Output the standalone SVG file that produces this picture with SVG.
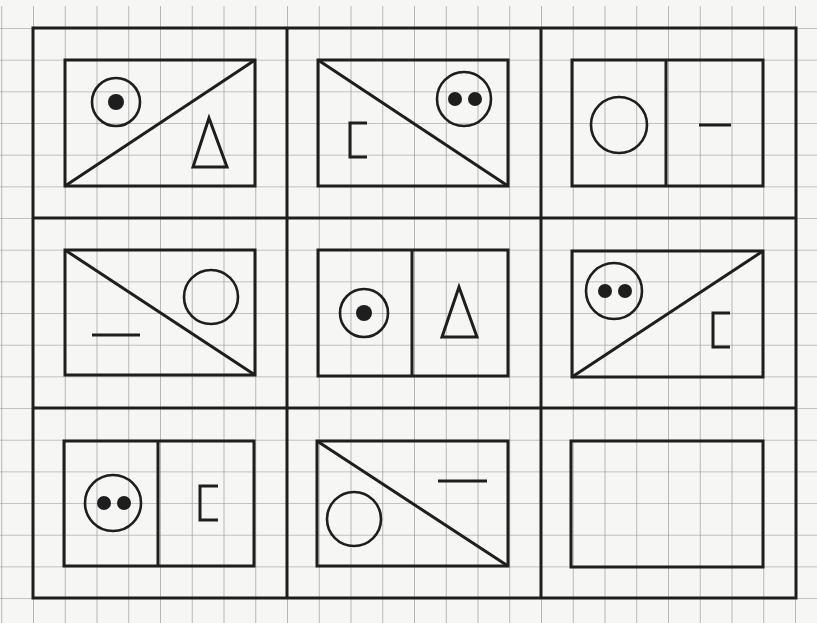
<svg xmlns="http://www.w3.org/2000/svg" width="817" height="623" viewBox="0 0 817 623">
<style>
.k{fill:none;stroke:#1e1e1e;stroke-width:3;stroke-linejoin:miter}
.c{fill:none;stroke:#1e1e1e;stroke-width:2.6}
.d{fill:#1e1e1e;stroke:none}
</style>
<defs>
<pattern id="grid" patternUnits="userSpaceOnUse" x="33" y="28" width="31.75" height="31.67">
<path d="M0 0H31.75M0 0V31.67" fill="none" stroke="#8c8c8c" stroke-width="1.2"/>
</pattern>
</defs>
<rect width="817" height="623" fill="#f6f6f4"/>
<rect x="0" y="6" width="817" height="617" fill="url(#grid)"/>
<g id="frame" class="k">
<rect x="33" y="28" width="763" height="570"/>
<line x1="287" y1="28" x2="287" y2="598"/>
<line x1="541" y1="28" x2="541" y2="598"/>
<line x1="33" y1="218" x2="796" y2="218"/>
<line x1="33" y1="408" x2="796" y2="408"/>
</g>
<g id="cell1">
<rect class="k" x="65" y="60" width="190" height="126"/>
<line class="k" x1="65" y1="186" x2="255" y2="60"/>
<circle class="c" cx="116" cy="102" r="24"/>
<circle class="d" cx="116" cy="102" r="8"/>
<path class="k" d="M209 118L193 167H227Z"/>
</g>
<g id="cell2">
<rect class="k" x="318" y="60" width="190" height="126"/>
<line class="k" x1="318" y1="60" x2="508" y2="186"/>
<circle class="c" cx="464" cy="99" r="27"/>
<circle class="d" cx="455" cy="99" r="7"/>
<circle class="d" cx="475" cy="99" r="7"/>
<path class="k" d="M367 123H350V157H367"/>
</g>
<g id="cell3">
<rect class="k" x="572" y="60" width="191" height="126"/>
<line class="k" x1="666" y1="60" x2="666" y2="186"/>
<circle class="c" cx="619" cy="125" r="28"/>
<line class="k" x1="699" y1="125" x2="731" y2="125"/>
</g>
<g id="cell4">
<rect class="k" x="65" y="250" width="190" height="125"/>
<line class="k" x1="65" y1="250" x2="255" y2="375"/>
<circle class="c" cx="211" cy="297" r="27"/>
<line class="k" x1="92" y1="335" x2="140" y2="335"/>
</g>
<g id="cell5">
<rect class="k" x="318" y="250" width="190" height="126"/>
<line class="k" x1="412" y1="250" x2="412" y2="376"/>
<circle class="c" cx="364" cy="313" r="24"/>
<circle class="d" cx="364" cy="313" r="8"/>
<path class="k" d="M459 287L442 337H477Z"/>
</g>
<g id="cell6">
<rect class="k" x="572" y="251" width="191" height="126"/>
<line class="k" x1="572" y1="377" x2="763" y2="251"/>
<circle class="c" cx="614" cy="291" r="28"/>
<circle class="d" cx="605" cy="291" r="7"/>
<circle class="d" cx="625" cy="291" r="7"/>
<path class="k" d="M730 313H713V347H730"/>
</g>
<g id="cell7">
<rect class="k" x="64" y="441" width="190" height="125"/>
<line class="k" x1="158" y1="441" x2="158" y2="566"/>
<circle class="c" cx="113" cy="503" r="28"/>
<circle class="d" cx="104" cy="503" r="7"/>
<circle class="d" cx="124" cy="503" r="7"/>
<path class="k" d="M218 486H200V520H218"/>
</g>
<g id="cell8">
<rect class="k" x="317" y="441" width="191" height="125"/>
<line class="k" x1="317" y1="441" x2="508" y2="566"/>
<circle class="c" cx="354" cy="519" r="27"/>
<line class="k" x1="438" y1="481" x2="487" y2="481"/>
</g>
<g id="cell9">
<rect class="k" x="571" y="441" width="192" height="126"/>
</g>
</svg>
